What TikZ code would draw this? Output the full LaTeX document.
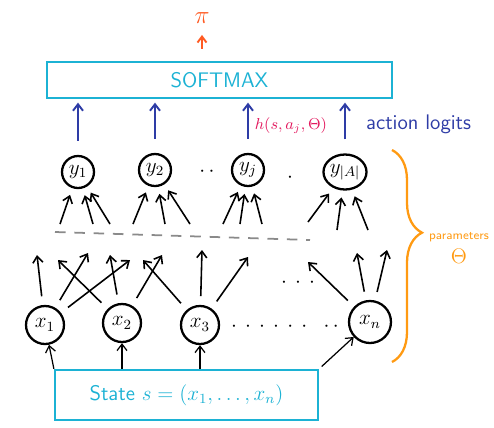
\documentclass[tikz,border=0pt]{standalone}
\usepackage{xcolor}
\usepackage{tikz}
\usetikzlibrary{arrows.meta,positioning,shapes.geometric,decorations.pathreplacing}
\definecolor{boxcyan}{HTML}{1CB2D4}
\definecolor{logitblue}{HTML}{2E3CA6}
\definecolor{hmagenta}{HTML}{E2165C}
\definecolor{piorange}{HTML}{FF5A22}
\definecolor{parorange}{HTML}{FF9A12}
\definecolor{dashgray}{HTML}{8A8A8A}
\tikzset{
  unit/.style={circle,draw=black,line width=1.3pt,minimum size=6.4mm,inner sep=0pt,font=\large},
  inunit/.style={unit,minimum size=7.6mm},
  layerbox/.style={draw=boxcyan,line width=1.3pt,text=boxcyan,font=\sffamily},
  wire/.style={-{Straight Barb[length=1.3mm,width=2mm]},line width=0.9pt},
  logit/.style={-{Straight Barb[length=1.3mm,width=2mm]},logitblue,line width=1.1pt},
}
\begin{document}
\begin{tikzpicture}[x=0.02cm,y=-0.02cm,
          piarr/.style={-{Straight Barb[length=1.2mm,width=1.8mm]},piorange,line width=1.1pt},
          dots/.style={font=\large,inner sep=0pt}]
        \useasboundingbox (0,0) rectangle (494,427);
        % softmax and policy
        \node[text=piorange,font=\Large] (pi) at (202,18) {$\pi$};
        \node[layerbox,minimum width=6.9cm,minimum height=7.2mm,font=\sffamily\large] (smax) at (219.5,80) {SOFTMAX};
        \draw[piarr,shorten <=7pt,shorten >=3pt] (smax.north -| pi.south) -- (pi.south);
        % action units
        \node[unit] (y1) at (78,172) {$y_1$};
        \node[unit] (y2) at (155,170) {$y_2$};
        \node[unit] (yj) at (248,170) {$y_j$};
        \node[ellipse,draw=black,line width=1.3pt,minimum width=8.6mm,minimum height=7mm,inner sep=0pt,font=\large] (yA) at (345,172) {$y_{|A|}$};
        \node[dots] (ydots) at (207,172) {$\cdot\,\cdot$};
        \node[dots] (ydot) at (290,178) {$\cdot$};
        \foreach \n in {y1,y2,yA}
          \draw[logit,shorten <=8pt,shorten >=2pt] (\n.north) -- (\n.north |- smax.south);
        \draw[logit,shorten <=8pt,shorten >=2pt] (yj.north) -- (yj.north |- smax.south)
          node[midway,right,text=hmagenta,font=\small]{$h(s,a_j,\Theta)$};
        \node[text=logitblue,font=\sffamily\large,anchor=west] (logits) at (360,124) {action logits};
        % weights into the action units
        \foreach \i/\tx/\ty in {1/60/224,2/93/224,3/110/224,4/133/224,5/165/224,6/190/224,
                                 7/223/224,8/240/224,9/262/224,10/308/222,11/337/230,12/368/230}
          \coordinate (t\i) at (\tx,\ty);
        \foreach \i/\n in {1/y1,2/y1,3/y1,4/y2,5/y2,6/y2,7/yj,8/yj,9/yj,10/yA,11/yA,12/yA}
          \draw[wire,shorten >=4pt] (t\i) -- (\n);
        \draw[dashgray,line width=1pt,dash pattern=on 6pt off 5pt] (55,232) -- (310,240);
        % input units
        \node[inunit] (x1) at (45,325) {$x_1$};
        \node[inunit] (x2) at (122,323) {$x_2$};
        \node[inunit] (x3) at (200,325) {$x_3$};
        \node[inunit,minimum size=8.4mm] (xn) at (370,322) {$x_n$};
        \node[dots] (xdots) at (285,327) {$\cdot\,\cdot\,\cdot\,\cdot\,\cdot\,\cdot\;\;\cdot\,\cdot$};
        \node[dots] (hdots) at (298,283) {$\cdot\,\cdot\,\cdot$};
        \foreach \i/\hx/\hy in {1/37/255,2/88/253,3/130/260,4/58/260,5/110/255,6/162/255,
                                 7/143/260,8/202/250,9/248/257,10/308/262,11/357/253,12/387/250}
          \coordinate (h\i) at (\hx,\hy);
        \foreach \n/\i in {x1/1,x1/2,x1/3,x2/4,x2/5,x2/6,x3/7,x3/8,x3/9,xn/10,xn/11,xn/12}
          \draw[wire,shorten <=5pt] (\n) -- (h\i);
        % state
        \node[layerbox,minimum width=5.26cm,minimum height=1cm,font=\sffamily\large] (state) at (186.5,395) {State $s=(x_1,\dots,x_n)$};
        \draw[wire,line width=0.7pt] (state.north west) -- (x1);
        \draw[wire,line width=0.7pt] (state.north -| x2) -- (x2);
        \draw[wire,line width=0.7pt] (state.north -| x3) -- (x3);
        \draw[wire,line width=0.7pt,shorten <=2pt] (state.north east) -- (xn);
        % parameters
        \draw[parorange,line width=1.3pt,decorate,decoration={brace,amplitude=0.6cm,aspect=0.39}] (392,150) -- (392,362);
        \node[text=parorange,font=\sffamily\scriptsize,align=center,inner sep=1pt] (params) at (459,248) {parameters\\[3pt]{\large$\Theta$}};
      \end{tikzpicture}
\end{document}
